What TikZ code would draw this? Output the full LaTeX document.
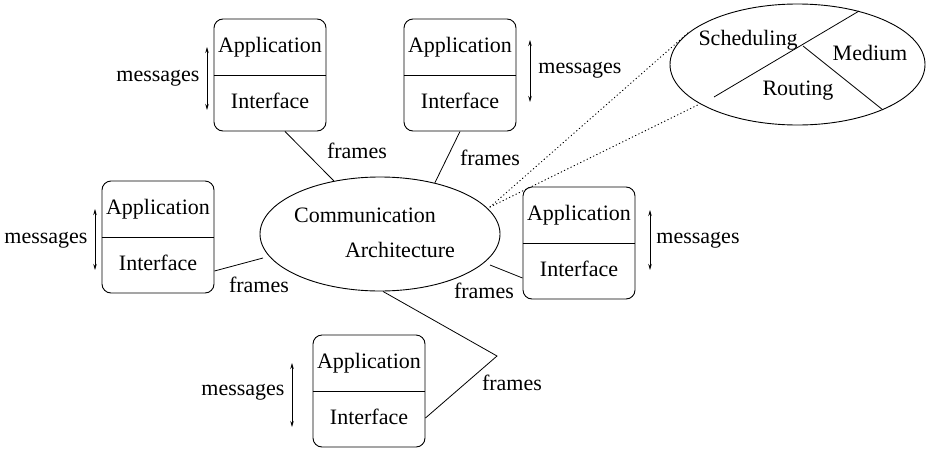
\documentclass[tikz,border=0pt]{standalone}
\usepackage{fontspec}
\setmainfont{Liberation Serif}
\usetikzlibrary{shapes.geometric,arrows.meta}
\begin{document}
\begin{tikzpicture}[x=1pt,y=-1pt,
  every node/.style={font=\fontsize{22}{26}\selectfont, inner sep=0pt},
  unit/.style={draw, rounded corners=9pt, minimum width=112pt, minimum height=112pt, line width=0.9pt},
  lbl/.style={text height=1.0em, text depth=0em},
  conn/.style={line width=0.8pt},
  msg/.style={line width=0.8pt, {Stealth[length=6pt,width=3.5pt]}-{Stealth[length=6pt,width=3.5pt]}},
  dots/.style={line width=1pt, dash pattern=on 0.6pt off 3pt, line cap=round}
]
\useasboundingbox (0,0) rectangle (928,450);

% central ellipse
\node[draw, ellipse, line width=0.9pt, minimum width=240pt, minimum height=114pt] (comm) at (380,234) {};
\node[lbl] (comm1) at (365,217) {Communication};
\node[lbl] (comm2) at (400,252) {Architecture};

% detail ellipse
\node[draw, ellipse, line width=0.9pt, minimum width=255pt, minimum height=121pt] (detail) at (797.5,64.5) {};
\coordinate (d1) at (714,97);
\coordinate (d2) at (803,46);
\draw[conn] (d1) -- (detail.41.8);
\draw[conn] (d2) -- (detail.-28.9);
\node[lbl] (sched) at (748,40) {Scheduling};
\node[lbl] (medium) at (870,55) {Medium};
\node[lbl] (routing) at (798,90) {Routing};

% dotted zoom lines
\coordinate (zs) at (490,207);
\draw[dots] (zs) -- (detail.164.6);
\draw[dots] (zs) -- (detail.202.9);

% box 1
\node[unit] (b1) at (270,75) {};
\draw[conn] (b1.west) -- (b1.east);
\node[lbl] (b1a) at (270,47) {Application};
\node[lbl] (b1i) at (270,103) {Interface};
\coordinate (a1t) at (207,47); \coordinate (a1b) at (207,110);
\draw[msg] (a1t) -- (a1b);
\node[lbl] (m1) at (158,76) {messages};

% box 2
\node[unit] (b2) at (460,75) {};
\draw[conn] (b2.west) -- (b2.east);
\node[lbl] (b2a) at (460,47) {Application};
\node[lbl] (b2i) at (460,103) {Interface};
\coordinate (a2t) at (530,40); \coordinate (a2b) at (530,102);
\draw[msg] (a2t) -- (a2b);
\node[lbl] (m2) at (580,68) {messages};

% box 3
\node[unit] (b3) at (158,237) {};
\draw[conn] (b3.west) -- (b3.east);
\node[lbl] (b3a) at (158,209) {Application};
\node[lbl] (b3i) at (158,265) {Interface};
\coordinate (a3t) at (95,209); \coordinate (a3b) at (95,270);
\draw[msg] (a3t) -- (a3b);
\node[lbl] (m3) at (46,238) {messages};

% box 4
\node[unit] (b4) at (579,243) {};
\draw[conn] (b4.west) -- (b4.east);
\node[lbl] (b4a) at (579,215) {Application};
\node[lbl] (b4i) at (579,271) {Interface};
\coordinate (a4t) at (650,210); \coordinate (a4b) at (650,270);
\draw[msg] (a4t) -- (a4b);
\node[lbl] (m4) at (698,238) {messages};

% box 5
\node[unit] (b5) at (369,391) {};
\draw[conn] (b5.west) -- (b5.east);
\node[lbl] (b5a) at (369,363) {Application};
\node[lbl] (b5i) at (369,419) {Interface};
\coordinate (a5t) at (292,363); \coordinate (a5b) at (292,427);
\draw[msg] (a5t) -- (a5b);
\node[lbl] (m5) at (243,390) {messages};

% frames connectors
\draw[conn] ([xshift=15pt]b1.south) -- (comm.131);
\node[lbl] (f1) at (357,153) {frames};
\draw[conn] (b2.south) -- (comm.43);
\node[lbl] (f2) at (490,160) {frames};
\coordinate (e3) at (263,258);
\draw[conn] ([yshift=-34pt]b3.east) -- (e3);
\node[lbl] (f3) at (259,287) {frames};
\coordinate (e4) at (490,265);
\draw[conn] (e4) -- ([yshift=-35pt]b4.west);
\node[lbl] (f4) at (484,293) {frames};
\coordinate (apex) at (497,356);
\draw[conn] ([xshift=3pt]comm.south) -- (apex) -- ([yshift=-27pt]b5.east);
\node[lbl] (f5) at (512,385) {frames};
\end{tikzpicture}
\end{document}
